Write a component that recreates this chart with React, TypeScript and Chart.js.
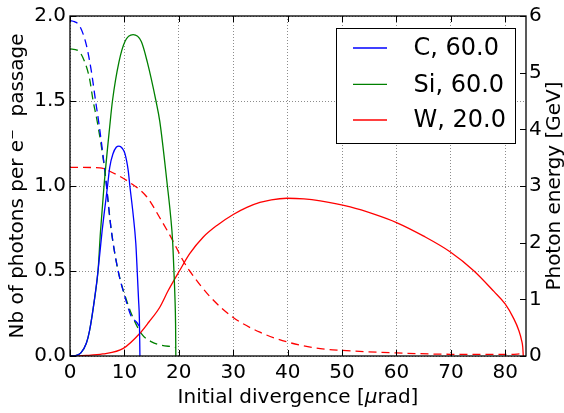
import React, { useEffect, useRef } from "react";
import { Chart, registerables } from "chart.js";

Chart.register(...registerables);

// ---- axis ticks / labels ----
const xTicks = [0, 10, 20, 30, 40, 50, 60, 70, 80];
const leftTicks = [0, 0.5, 1.0, 1.5, 2.0];
const rightTicks = [0, 1, 2, 3, 4, 5, 6];
const legendLabels = ["C, 60.0", "Si, 60.0", "W, 20.0"];
const xTitleParts = ["Initial divergence [", "\u03bc", "rad]"];
const leftTitle = "Nb of photons per e\u207b  passage";
const rightTitle = "Photon energy [GeV]";

// ---- Nb of photons per e- passage (left axis, solid) ----
const cNbX = [0, 1, 2, 3, 3.6, 4.55, 5.15, 5.9, 6.9, 7.3, 7.9, 8.5, 9.0, 9.6, 10.1, 10.7, 11.0, 11.6, 12.1, 12.35, 12.6, 12.75, 12.85];
const cNbY = [0, 0.002, 0.018, 0.075, 0.15, 0.345, 0.5, 0.735, 1.0, 1.11, 1.19, 1.228, 1.235, 1.222, 1.19, 1.09, 1.0, 0.834, 0.66, 0.5, 0.33, 0.22, 0];

const siNbX = [0, 1, 2, 3, 3.6, 4.55, 5.15, 5.6, 6.25, 7.3, 7.8, 9.0, 10.1, 11.6, 13.1, 14.2, 15.8, 16.5, 17.9, 18.5, 18.85, 19.1, 19.3, 19.4, 19.45];
const siNbY = [0, 0.002, 0.018, 0.075, 0.15, 0.345, 0.5, 0.73, 1.0, 1.35, 1.5, 1.73, 1.85, 1.89, 1.85, 1.73, 1.5, 1.38, 1.0, 0.82, 0.68, 0.5, 0.33, 0.19, 0];

const wNbX = [0, 3, 6, 9.8, 12.85, 14.5, 16.5, 18.05, 20.1, 22, 24.5, 27, 30, 32.5, 34.9, 37, 39.85, 43, 46, 51.5, 56, 60, 65, 69.9, 74.2, 77.9, 80, 81.5, 82.5, 83, 83.2, 83.3];
const wNbY = [0, 0.003, 0.012, 0.045, 0.134, 0.2, 0.287, 0.385, 0.5, 0.602, 0.7, 0.768, 0.832, 0.874, 0.903, 0.919, 0.928, 0.924, 0.912, 0.877, 0.833, 0.785, 0.705, 0.612, 0.502, 0.38, 0.305, 0.223, 0.149, 0.091, 0.053, 0];

// ---- Photon energy in GeV (right axis, dashed) ----
const cEnX = [0, 0.8, 1.8, 3.0, 3.9, 4.7, 5.35, 6.4, 7.6, 8.85, 10.1, 11.3, 12.2, 12.85];
const cEnY = [5.92, 5.9, 5.82, 5.49, 5.04, 4.5, 4.08, 3.27, 2.21, 1.5, 1.04, 0.69, 0.6, 0.51];

const siEnX = [0, 1.5, 2.7, 3.6, 4.25, 5.0, 6.4, 7.6, 8.85, 10.4, 11.3, 13.15, 15, 16.8, 19, 19.45];
const siEnY = [5.42, 5.39, 5.19, 4.89, 4.5, 4.14, 3.27, 2.21, 1.5, 0.98, 0.74, 0.39, 0.25, 0.19, 0.16, 0.15];

const wEnX = [0, 5.5, 7.3, 11, 14.1, 16.5, 18.7, 20.8, 22, 25.8, 30, 34.9, 39.85, 46, 50, 60, 70, 80, 83.3];
const wEnY = [3.33, 3.32, 3.26, 3.06, 2.81, 2.44, 2.07, 1.68, 1.5, 1.04, 0.68, 0.42, 0.25, 0.13, 0.1, 0.054, 0.03, 0.027, 0.04];

const BLUE = "#0000ff";
const GREEN = "#008000";
const RED = "#ff0000";
const FONT = "'DejaVu Sans', sans-serif";

const pts = (xs: number[], ys: number[]) => xs.map((x, i) => ({ x, y: ys[i] }));

const decorPlugin = {
  id: "decor",
  afterDatasetsDraw(chart: any) {
    const { ctx, chartArea: ca, scales } = chart;
    ctx.save();
    // frame
    ctx.strokeStyle = "#000";
    ctx.lineWidth = 1.3;
    ctx.setLineDash([]);
    ctx.strokeRect(ca.left, ca.top, ca.right - ca.left, ca.bottom - ca.top);
    // inward ticks
    const tl = 6;
    ctx.lineWidth = 1;
    ctx.beginPath();
    xTicks.forEach((v) => {
      const px = Math.round(scales.x.getPixelForValue(v)) + 0.5;
      ctx.moveTo(px, ca.bottom);
      ctx.lineTo(px, ca.bottom - tl);
      ctx.moveTo(px, ca.top);
      ctx.lineTo(px, ca.top + tl);
    });
    leftTicks.forEach((v) => {
      const py = Math.round(scales.y.getPixelForValue(v)) + 0.5;
      ctx.moveTo(ca.left, py);
      ctx.lineTo(ca.left + tl, py);
    });
    rightTicks.forEach((v) => {
      const py = Math.round(scales.y2.getPixelForValue(v)) + 0.5;
      ctx.moveTo(ca.right, py);
      ctx.lineTo(ca.right - tl, py);
    });
    ctx.stroke();

    // legend
    const bw = 179;
    const bh = 115;
    const bx = ca.right - 11 - bw;
    const by = ca.top + 12;
    ctx.fillStyle = "#fff";
    ctx.fillRect(bx, by, bw, bh);
    ctx.strokeStyle = "#000";
    ctx.lineWidth = 1;
    ctx.strokeRect(bx + 0.5, by + 0.5, bw, bh);
    const colors = [BLUE, GREEN, RED];
    const rows = [20, 56.3, 92];
    ctx.font = `24px ${FONT}`;
    ctx.textAlign = "left";
    ctx.textBaseline = "middle";
    legendLabels.forEach((lab, i) => {
      const y = by + rows[i];
      ctx.strokeStyle = colors[i];
      ctx.lineWidth = 1.3;
      ctx.beginPath();
      ctx.moveTo(bx + 17, y);
      ctx.lineTo(bx + 51, y);
      ctx.stroke();
      ctx.fillStyle = "#000";
      ctx.fillText(lab, bx + 77.5, y + 1);
    });

    // x axis title with italic mu
    ctx.fillStyle = "#000";
    ctx.textBaseline = "alphabetic";
    ctx.textAlign = "left";
    const fonts = [`20px ${FONT}`, `italic 20px ${FONT}`, `20px ${FONT}`];
    const widths = xTitleParts.map((p, i) => {
      ctx.font = fonts[i];
      return ctx.measureText(p).width;
    });
    const total = widths.reduce((a, b) => a + b, 0);
    let tx = (ca.left + ca.right) / 2 - total / 2;
    xTitleParts.forEach((p, i) => {
      ctx.font = fonts[i];
      ctx.fillText(p, tx, 403);
      tx += widths[i];
    });

    // right axis title (reads bottom to top)
    ctx.font = `20px ${FONT}`;
    ctx.textAlign = "center";
    ctx.textBaseline = "middle";
    ctx.translate(chart.width - 9, (ca.top + ca.bottom) / 2);
    ctx.rotate(-Math.PI / 2);
    ctx.fillText(rightTitle, 0, 0);
    ctx.restore();
  },
};

export default function App() {
  const ref = useRef<HTMLCanvasElement | null>(null);

  useEffect(() => {
    if (!ref.current) return;
    Chart.defaults.font.family = FONT;
    const common = { pointRadius: 0, borderWidth: 1.3, fill: false, cubicInterpolationMode: "monotone" as const };
    const chart = new Chart(ref.current, {
      type: "line",
      data: {
        datasets: [
          { label: legendLabels[0], data: pts(cNbX, cNbY), borderColor: BLUE, yAxisID: "y", ...common },
          { label: legendLabels[1], data: pts(siNbX, siNbY), borderColor: GREEN, yAxisID: "y", ...common },
          { label: legendLabels[2], data: pts(wNbX, wNbY), borderColor: RED, yAxisID: "y", ...common },
          { label: "C energy", data: pts(cEnX, cEnY), borderColor: BLUE, borderDash: [8, 5], yAxisID: "y2", ...common },
          { label: "Si energy", data: pts(siEnX, siEnY), borderColor: GREEN, borderDash: [8, 5], yAxisID: "y2", ...common },
          { label: "W energy", data: pts(wEnX, wEnY), borderColor: RED, borderDash: [8, 5], yAxisID: "y2", ...common },
        ],
      },
      options: {
        animation: false,
        responsive: false,
        maintainAspectRatio: false,
        devicePixelRatio: 1,
        layout: { padding: { top: 14, left: 0, right: 0, bottom: 0 } },
        plugins: { legend: { display: false }, tooltip: { enabled: false } },
        scales: {
          x: {
            type: "linear",
            min: 0,
            max: 83.8,
            afterBuildTicks: (s: any) => {
              s.ticks = xTicks.map((v) => ({ value: v }));
            },
            afterFit: (s: any) => {
              s.height = 57;
            },
            ticks: { color: "#000", font: { size: 20 }, padding: 5, maxRotation: 0, callback: (v: any) => String(v) },
            grid: { color: "rgba(0,0,0,0.45)", lineWidth: 1, drawTicks: false },
            border: { display: false, dash: [1, 2] },
            title: { display: false },
          },
          y: {
            type: "linear",
            position: "left",
            min: 0,
            max: 2,
            afterBuildTicks: (s: any) => {
              s.ticks = leftTicks.map((v) => ({ value: v }));
            },
            afterFit: (s: any) => {
              s.width = 70;
            },
            ticks: { color: "#000", font: { size: 20 }, padding: 4, callback: (v: any) => Number(v).toFixed(1) },
            grid: { color: "rgba(0,0,0,0.45)", lineWidth: 1, drawTicks: false },
            border: { display: false, dash: [1, 2] },
            title: { display: true, text: leftTitle, color: "#000", font: { size: 20 }, padding: { top: 6, bottom: 0 } },
          },
          y2: {
            type: "linear",
            position: "right",
            min: 0,
            max: 6,
            afterBuildTicks: (s: any) => {
              s.ticks = rightTicks.map((v) => ({ value: v }));
            },
            afterFit: (s: any) => {
              s.width = 38;
            },
            ticks: { color: "#000", font: { size: 20 }, padding: 3, callback: (v: any) => String(v) },
            grid: { display: false, drawTicks: false },
            border: { display: false },
          },
        },
      },
      plugins: [decorPlugin],
    });
    return () => chart.destroy();
  }, []);

  return (
    <div style={{ position: "absolute", left: 0, top: 0, width: 564, height: 413, background: "#fff" }}>
      <canvas ref={ref} width={564} height={413} style={{ display: "block" }} />
    </div>
  );
}
